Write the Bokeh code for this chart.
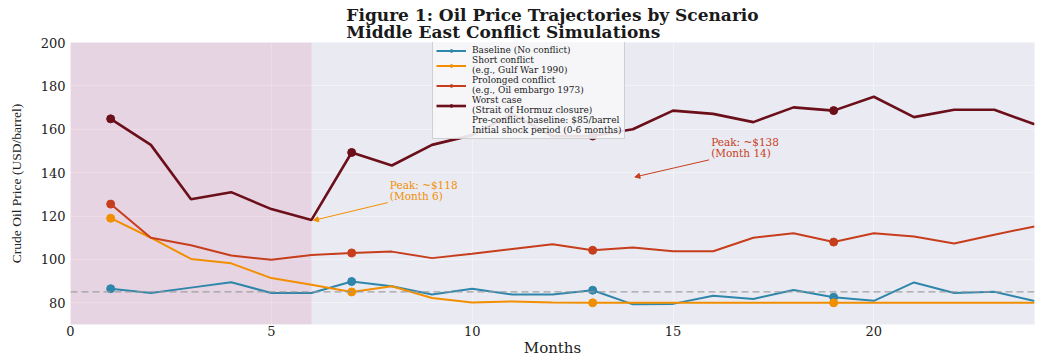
from bokeh.plotting import figure
from bokeh.models import (Span, BoxAnnotation, Legend, LegendItem, Label, Arrow,
                          NormalHead, Title, FixedTicker)
from bokeh.embed import file_html
from bokeh.resources import INLINE

months = list(range(1, 25))
baseline = [86.5, 84.5, 87, 89.5, 84.5, 84.5, 89.8, 87.6, 83.8, 86.5, 83.8, 83.8,
            85.8, 79.3, 79.5, 83.3, 81.8, 85.9, 82.6, 80.9, 89.4, 84.5, 85.1, 80.8]
short = [119, 110, 100.2, 98.2, 91.4, 88.3, 85, 87.6, 82.2, 80.1, 80.6, 80.1,
         80, 80, 80, 80, 80, 80, 80, 80, 80, 80, 80, 80]
prolonged = [125.5, 110, 106.5, 101.8, 99.8, 102, 103, 103.6, 100.6, 102.6, 104.8, 107,
             104.2, 105.5, 103.8, 103.8, 110, 112.1, 108, 112.1, 110.6, 107.3, 111.4, 115.2]
worst = [164.8, 152.8, 127.7, 131, 123.2, 118.2, 149.3, 143.3, 152.8, 157.3, 167, 156.9,
         156.9, 160, 168.6, 167.1, 163.3, 170.1, 168.6, 175, 165.6, 169, 169, 162.3]

names = ["Baseline (No conflict)", "Short conflict\n(e.g., Gulf War 1990)",
         "Prolonged conflict\n(e.g., Oil embargo 1973)",
         "Worst case\n(Strait of Hormuz closure)"]
colors = ["#2E86AB", "#F18F01", "#C73E1D", "#6B0F1A"]
widths = [2, 2, 2, 2.6]
pre_conflict = 85
shock_start, shock_end = 0, 6
x_ticks = [0, 5, 10, 15, 20]
y_ticks = [80, 100, 120, 140, 160, 180, 200]
ann1_text = "Peak: ~$118\n(Month 6)"
ann1_point = (6, 118)
ann1_text_pos = (7.95, 126.5)
ann2_text = "Peak: ~$138\n(Month 14)"
ann2_point = (14, 138)
ann2_text_pos = (15.95, 146.2)

SERIF = "DejaVu Serif"

p = figure(width=1043, height=359, x_range=(0, 24), y_range=(70, 200),
           output_backend="svg", toolbar_location=None,
           min_border_left=70, min_border_right=9, min_border_top=42, min_border_bottom=33)
p.background_fill_color = "#EAEAF2"
p.border_fill_color = "white"
p.outline_line_color = None

p.title.visible = False
p.add_layout(Title(text="Figure 1: Oil Price Trajectories by Scenario\nMiddle East Conflict Simulations",
                   align="center", text_font=SERIF, text_font_size="17px",
                   text_font_style="bold", text_line_height=0.86, standoff=0,
                   offset=0, text_color="#1a1a1a"), "above")

for ax in (p.xaxis, p.yaxis):
    ax.axis_line_color = None
    ax.major_tick_line_color = None
    ax.minor_tick_line_color = None
    ax.major_tick_out = 0
    ax.major_tick_in = 0
    ax.minor_tick_out = 0
    ax.minor_tick_in = 0
    ax.major_label_text_font = SERIF
    ax.major_label_text_font_size = "13px"
    ax.major_label_text_color = "#222222"
    ax.major_label_text_line_height = 1.0
    ax.axis_label_text_line_height = 1.0
p.xaxis.ticker = FixedTicker(ticks=x_ticks)
p.yaxis.ticker = FixedTicker(ticks=y_ticks)
p.xaxis.major_label_standoff = 1
p.yaxis.major_label_standoff = 5
p.xaxis.axis_label = "Months"
p.xaxis.axis_label_text_font = SERIF
p.xaxis.axis_label_text_font_size = "15px"
p.xaxis.axis_label_text_font_style = "normal"
p.xaxis.axis_label_text_color = "#222222"
p.xaxis.axis_label_standoff = 0
p.yaxis.axis_label = "Crude Oil Price (USD/barrel)"
p.yaxis.axis_label_text_font = "Liberation Serif"
p.yaxis.axis_label_text_font_size = "13.5px"
p.yaxis.axis_label_text_font_style = "normal"
p.yaxis.axis_label_text_color = "#222222"
p.yaxis.axis_label_standoff = 14
p.grid.grid_line_color = "white"
p.grid.grid_line_alpha = 0.4
p.grid.grid_line_width = 1
p.xgrid.ticker = FixedTicker(ticks=x_ticks)
p.ygrid.ticker = FixedTicker(ticks=y_ticks)

shade_color = "#C2185B"
p.add_layout(BoxAnnotation(left=shock_start, right=shock_end, fill_color=shade_color,
                           fill_alpha=0.1, line_color=None, level="underlay"))
p.add_layout(Span(location=pre_conflict, dimension="width", line_color="#999999",
                  line_dash="7 4", line_width=1.3, line_alpha=0.9))

items = []
series = [baseline, short, prolonged, worst]
for vals, name, c, w in zip(series, names, colors, widths):
    lr = p.line(months, vals, line_color=c, line_width=w)
    mx = months[::6]
    my = vals[::6]
    sr = p.scatter(mx, my, size=8, fill_color=c, line_color=c)
    items.append(LegendItem(label=name, renderers=[lr, sr]))

dash_r = p.line([], [], line_color="#999999", line_dash="7 4", line_width=1.3)
items.append(LegendItem(label="Pre-conflict baseline: $85/barrel", renderers=[dash_r]))
shade_r = p.quad(left=[], right=[], top=[], bottom=[], fill_color=shade_color,
                 fill_alpha=0.15, line_color=None)
items.append(LegendItem(label="Initial shock period (0-6 months)", renderers=[shade_r]))

legend = Legend(items=items, location=(362, 185), label_text_font=SERIF,
                label_text_font_size="9px", label_height=7, glyph_height=7,
                glyph_width=30, spacing=0, padding=3, margin=0, label_standoff=6,
                background_fill_color="#F7F7F9", background_fill_alpha=0.9,
                border_line_color="#AAAAAA", border_line_width=1,
                label_text_line_height=0.85, label_text_color="#222222")
p.add_layout(legend)

for txt, pt, tp, c in [(ann1_text, ann1_point, ann1_text_pos, "#F18F01"),
                       (ann2_text, ann2_point, ann2_text_pos, "#C73E1D")]:
    p.add_layout(Label(x=tp[0], y=tp[1], text=txt, text_font=SERIF, text_font_size="10.5px",
                       text_color=c, text_baseline="bottom", text_line_height=0.9))
    p.add_layout(Arrow(end=NormalHead(size=5, fill_color=c, line_color=c),
                       x_start=tp[0] - 0.05, y_start=tp[1] - 0.3,
                       x_end=pt[0] + 0.05, y_end=pt[1], line_color=c, line_width=1))

open("out.html", "w").write(file_html(p, INLINE))
